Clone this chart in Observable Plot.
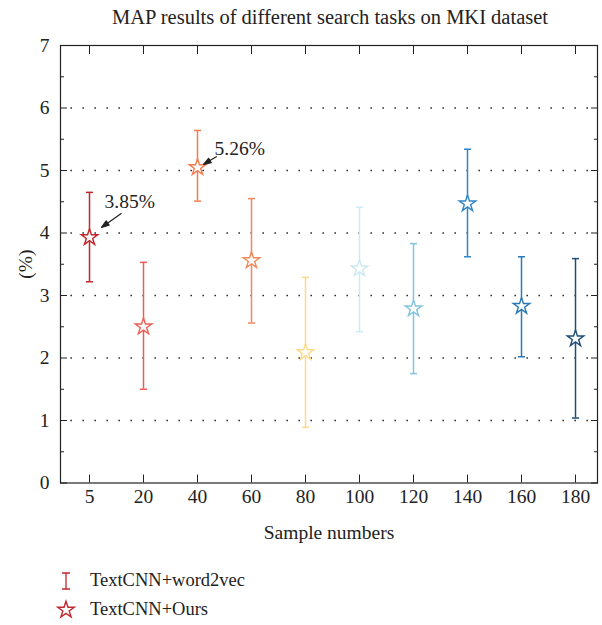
<!DOCTYPE html>
<html>
<head>
<meta charset="utf-8">
<script src="https://cdn.jsdelivr.net/npm/d3@7"></script>
<script src="https://cdn.jsdelivr.net/npm/@observablehq/plot@0.6"></script>
<style>
  body { margin: 0; background: #fff; font-family: "Liberation Serif", serif; color: #222; }
  #title { height: 30px; line-height: 34px; font-size: 20.5px; text-align: center; padding-left: 58px; width: 544px; }
  #legend { padding-left: 55px; padding-top: 11px; font-size: 18.5px; }
  .row { display: flex; align-items: center; height: 29px; }
  .row svg { margin-right: 13px; }
</style>
</head>
<body>
<div id="title">MAP results of different search tasks on MKI dataset</div>
<div id="chart"></div>
<div id="legend">
  <div class="row"><svg width="22" height="22"><path d="M7,3H15M11,3V19M7,19H15" stroke="#c1272d" stroke-width="1.3" fill="none"/></svg>TextCNN+word2vec</div>
  <div class="row"><svg width="22" height="22" id="legstar"></svg>TextCNN+Ours</div>
</div>
<script>
const categories = ["5", "20", "40", "60", "80", "100", "120", "140", "160", "180"];
const oursValues = [3.93, 2.50, 5.05, 3.56, 2.09, 3.43, 2.79, 4.47, 2.83, 2.31];
const upperValues = [4.65, 3.53, 5.64, 4.55, 3.29, 4.41, 3.83, 5.34, 3.62, 3.59];
const lowerValues = [3.22, 1.50, 4.51, 2.56, 0.89, 2.42, 1.75, 3.62, 2.02, 1.04];
const seriesColors = ["#c1272d", "#ef5c54", "#f57b4f", "#f2875a", "#fdd98b", "#cdeaf2", "#83c4de", "#2f86c8", "#2a79b8", "#1d4f7a"];
const yTicks = [0, 1, 2, 3, 4, 5, 6, 7];
const gridTicks = [1, 2, 3, 4, 5, 6];
const minorTicks = [0.5, 1.5, 2.5, 3.5, 4.5, 5.5, 6.5];
const annotationCategories = ["5", "40"];
const annotationLabels = ["3.85%", "5.26%"];

const data = categories.map((c, i) => ({cat: c, mean: oursValues[i], lo: lowerValues[i], hi: upperValues[i], color: seriesColors[i]}));
const ann = annotationCategories.map((c, i) => ({cat: c, mean: oursValues[categories.indexOf(c)], label: annotationLabels[i]}));

const capSymbol = {draw(ctx) { ctx.moveTo(-3.5, 0); ctx.lineTo(3.5, 0); }};
const arrowShape = {draw(ctx, l) {
  ctx.moveTo(0, 0); ctx.lineTo(0, -l + 6);
  ctx.moveTo(0, -l); ctx.lineTo(-2.6, -l + 7.5); ctx.lineTo(2.6, -l + 7.5); ctx.closePath();
}};

const fs = 19.5;
const plot = Plot.plot({
  width: 602,
  height: 525,
  marginTop: 15,
  marginLeft: 60,
  marginRight: 5,
  marginBottom: 72.5,
  style: {fontFamily: "'Liberation Serif', serif", fontSize: fs + "px", color: "#222", background: "white"},
  x: {type: "point", domain: categories, padding: 0.445, align: 0.56, label: "Sample numbers"},
  y: {domain: [0, 7], label: "(%)"},
  color: {type: "identity"},
  marks: [
    Plot.gridY(gridTicks, {stroke: "#333", strokeOpacity: 1, strokeWidth: 1.6, strokeDasharray: "1.6 10.4", strokeDashoffset: -10.4}),
    Plot.ruleX(data, {x: "cat", y1: "lo", y2: "hi", stroke: "color", strokeWidth: 1.5}),
    Plot.dot(data, {x: "cat", y: "hi", symbol: capSymbol, stroke: "color", fill: "none", strokeWidth: 1.5}),
    Plot.dot(data, {x: "cat", y: "lo", symbol: capSymbol, stroke: "color", fill: "none", strokeWidth: 1.5}),
    Plot.dot(data, {x: "cat", y: "mean", symbol: "star", r: 5.2, stroke: "color", fill: "white", strokeWidth: 1.4}),
    Plot.vector(ann.filter(d => d.cat === "5"), {x: "cat", y: "mean", anchor: "end", length: 24, rotate: 235, dx: 12, dy: -10, shape: arrowShape, stroke: "#222", fill: "#222", strokeWidth: 1.2}),
    Plot.vector(ann.filter(d => d.cat === "40"), {x: "cat", y: "mean", anchor: "end", length: 15, rotate: 239, dx: 6, dy: -3, shape: arrowShape, stroke: "#222", fill: "#222", strokeWidth: 1.2}),
    Plot.text(ann.filter(d => d.cat === "5"), {x: "cat", y: "mean", text: "label", dx: 15, dy: -36, textAnchor: "start", fontSize: 19.5, fill: "#222"}),
    Plot.text(ann.filter(d => d.cat === "40"), {x: "cat", y: "mean", text: "label", dx: 17, dy: -19, textAnchor: "start", fontSize: 19.5, fill: "#222"}),
    Plot.axisY(yTicks, {anchor: "left", tickSize: 0, tickPadding: 11, tickFormat: "d", fontSize: fs, label: "(%)", labelAnchor: "center", labelOffset: 42, labelArrow: "none"}),
    Plot.axisY(yTicks, {anchor: "left", tickSize: -7, text: null, label: null, stroke: "#222"}),
    Plot.axisY(minorTicks, {anchor: "left", tickSize: -4, text: null, label: null, stroke: "#222"}),
    Plot.axisY(yTicks, {anchor: "right", tickSize: -7, text: null, label: null, stroke: "#222"}),
    Plot.axisY(minorTicks, {anchor: "right", tickSize: -4, text: null, label: null, stroke: "#222"}),
    Plot.axisX({anchor: "bottom", tickSize: 0, tickPadding: 6, fontSize: fs, label: "Sample numbers", labelAnchor: "center", labelOffset: 56, labelArrow: "none"}),
    Plot.axisX({anchor: "bottom", tickSize: -8, text: null, label: null, stroke: "#222"}),
    Plot.axisX({anchor: "top", tickSize: -8, text: null, label: null, stroke: "#222"}),
    Plot.frame({stroke: "#222", strokeWidth: 1.2})
  ]
});
document.getElementById("chart").appendChild(plot);

const starPath = d3.symbol(d3.symbolStar, 5.2 * 5.2 * Math.PI)();
d3.select("#legstar").append("path").attr("d", starPath).attr("transform", "translate(11,11)")
  .attr("stroke", seriesColors[0]).attr("stroke-width", 1.4).attr("fill", "white");
</script>
</body>
</html>
